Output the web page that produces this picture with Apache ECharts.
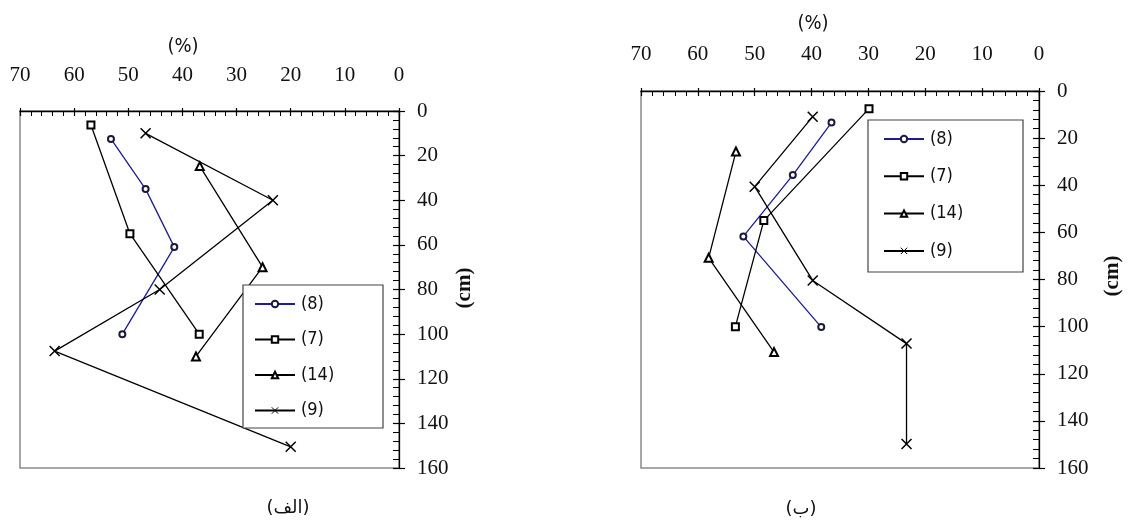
<!DOCTYPE html>
<html>
<head>
<meta charset="utf-8">
<script src="https://cdn.jsdelivr.net/npm/echarts@6/dist/echarts.min.js"></script>
<style>
  html, body { margin: 0; padding: 0; background: #fff; }
  #chart { width: 1128px; height: 524px; }
</style>
</head>
<body>
<div id="chart"></div>
<script>
// Moisture profiles (%) against depth (cm) for four profiles, two sites
const seriesNames = ['(8)', '(7)', '(14)', '(9)'];

// Site (الف): [percent, depth cm]
const alef8  = [[53.2, 12.5], [46.8, 35], [41.5, 61], [51.1, 100]];
const alef7  = [[56.9, 6.3], [49.7, 55], [36.9, 100]];
const alef14 = [[36.8, 24.7], [25.2, 70], [37.5, 110]];
const alef9  = [[46.8, 10], [23.3, 40], [44.2, 80], [63.6, 107.6], [20, 150.5]];

// Site (ب): [percent, depth cm]
const be8  = [[36.5, 13.4], [43.3, 35.7], [52, 61.7], [38.3, 100.2]];
const be7  = [[29.9, 7.5], [48.4, 55], [53.4, 100]];
const be14 = [[53.3, 25.7], [58.1, 70.8], [46.6, 110.8]];
const be9  = [[39.8, 10.9], [50, 40.6], [39.8, 80.4], [23.3, 107.2], [23.3, 149.8]];

const percentRange = { min: 0, max: 70, interval: 10 };
const depthRange = { min: 0, max: 160, interval: 20 };

const captions = ['(الف)', '(ب)'];
const xTitle = '(%)';
const yTitle = '(cm)';

const serif = "'Liberation Serif', 'Times New Roman', serif";
const narrow = "'Liberation Sans Narrow', 'DejaVu Sans Condensed', 'Liberation Sans', sans-serif";

const gridBoxes = [
  { left: 20, top: 111, width: 379, height: 357 },
  { left: 641, top: 91, width: 398, height: 377 }
];

const grids = [];
const xAxes = [];
const yAxes = [];
gridBoxes.forEach(function (b) {
  // visible frame grid
  grids.push(Object.assign({ show: true, borderColor: '#8a8a8a', borderWidth: 1.5, backgroundColor: 'transparent' }, b));
});
gridBoxes.forEach(function (b) {
  // overlay grid carrying the outward half of the major ticks
  grids.push(Object.assign({ show: false }, b));
});

function mainX(gi, margin) {
  return {
    type: 'value', gridIndex: gi, position: 'top', inverse: true,
    min: percentRange.min, max: percentRange.max, interval: percentRange.interval,
    axisLine: { show: true, lineStyle: { color: '#000', width: 1.3 } },
    axisTick: { show: true, inside: true, length: 5, lineStyle: { color: '#000', width: 1.2 } },
    minorTick: { show: true, splitNumber: 5, length: 5, lineStyle: { color: '#000', width: 1 } },
    axisLabel: { show: true, margin: margin, color: '#111', fontFamily: serif, fontSize: 21 },
    splitLine: { show: false }
  };
}
function outerX(gi) {
  return {
    type: 'value', gridIndex: gi, position: 'top', inverse: true,
    min: percentRange.min, max: percentRange.max, interval: percentRange.interval,
    axisLine: { show: false },
    axisTick: { show: true, inside: false, length: 3, lineStyle: { color: '#000', width: 1.2 } },
    axisLabel: { show: false }, splitLine: { show: false }
  };
}
function mainY(gi) {
  return {
    type: 'value', gridIndex: gi, position: 'right', inverse: true,
    min: depthRange.min, max: depthRange.max, interval: depthRange.interval,
    axisLine: { show: true, lineStyle: { color: '#000', width: 1.3 } },
    axisTick: { show: true, inside: true, length: 6, lineStyle: { color: '#000', width: 1.2 } },
    minorTick: { show: true, splitNumber: 5, length: 6, lineStyle: { color: '#000', width: 1 } },
    axisLabel: { show: true, margin: 18, color: '#111', fontFamily: serif, fontSize: 21 },
    splitLine: { show: false }
  };
}
function outerY(gi) {
  return {
    type: 'value', gridIndex: gi, position: 'right', inverse: true,
    min: depthRange.min, max: depthRange.max, interval: depthRange.interval,
    axisLine: { show: false },
    axisTick: { show: true, inside: false, length: 6, lineStyle: { color: '#000', width: 1.2 } },
    axisLabel: { show: false }, splitLine: { show: false }
  };
}

xAxes.push(mainX(0, 25), mainX(1, 26), outerX(2), outerX(3));
yAxes.push(mainY(0), mainY(1), outerY(2), outerY(3));

const crossPath = 'path://M0,0L10,10M10,0L0,10';
const styles = {
  '(8)':  { symbol: 'emptyCircle', symbolSize: 6, line: '#1d1d8f', mark: '#1a1a3a' },
  '(7)':  { symbol: 'emptyRect', symbolSize: 7, line: '#000', mark: '#000' },
  '(14)': { symbol: 'emptyTriangle', symbolSize: 8, line: '#000', mark: '#000' },
  '(9)':  { symbol: crossPath, symbolSize: 10, line: '#000', mark: '#000' }
};

function makeSeries(name, data, gi) {
  const s = styles[name];
  return {
    name: name, type: 'line', data: data,
    xAxisIndex: gi, yAxisIndex: gi,
    symbol: s.symbol, symbolSize: s.symbolSize, showAllSymbol: true,
    lineStyle: { color: s.line, width: 1.3 },
    itemStyle: { color: s.mark, borderColor: s.mark, borderWidth: name === '(9)' ? 1.5 : 1 },
    emphasis: { disabled: true },
    animation: false, z: 2
  };
}

const panelData = [
  [alef8, alef7, alef14, alef9],
  [be8, be7, be14, be9]
];
const series = [];
panelData.forEach(function (sets, gi) {
  sets.forEach(function (d, k) { series.push(makeSeries(seriesNames[k], d, gi)); });
});

function legendAt(left, top, gap) {
  return {
    show: true, orient: 'vertical', left: left, top: top, padding: 0,
    itemWidth: 40, itemHeight: 8, itemGap: gap, z: 10,
    data: seriesNames, selectedMode: false,
    itemStyle: { borderWidth: 1 },
    textStyle: { fontFamily: narrow, fontSize: 18, color: '#111', padding: [0, 0, 0, 1] }
  };
}

const option = {
  backgroundColor: '#fff',
  animation: false,
  grid: grids,
  xAxis: xAxes,
  yAxis: yAxes,
  series: series,
  legend: [legendAt(254, 295, 17.5), legendAt(883, 130, 19.3)],
  graphic: [
    { type: 'rect', z: 5, shape: { x: 243, y: 285, width: 140, height: 143 },
      style: { fill: '#fff', stroke: '#444', lineWidth: 1.2 } },
    { type: 'rect', z: 5, shape: { x: 868, y: 120, width: 155, height: 152 },
      style: { fill: '#fff', stroke: '#444', lineWidth: 1.2 } },
    { type: 'text', x: 183, y: 47, style: { text: xTitle, font: '20px ' + narrow, fill: '#111', textAlign: 'center', textVerticalAlign: 'middle' } },
    { type: 'text', x: 813, y: 24, style: { text: xTitle, font: '20px ' + narrow, fill: '#111', textAlign: 'center', textVerticalAlign: 'middle' } },
    { type: 'text', x: 465, y: 288, rotation: Math.PI / 2, style: { text: yTitle, font: 'bold 21px ' + serif, fill: '#111', textAlign: 'center', textVerticalAlign: 'middle' } },
    { type: 'text', x: 1113, y: 276, rotation: Math.PI / 2, style: { text: yTitle, font: 'bold 21px ' + serif, fill: '#111', textAlign: 'center', textVerticalAlign: 'middle' } },
    { type: 'text', x: 288, y: 508, style: { text: captions[0], font: "18px 'DejaVu Sans', sans-serif", fill: '#111', textAlign: 'center', textVerticalAlign: 'middle' } },
    { type: 'text', x: 801, y: 509, style: { text: captions[1], font: "18px 'DejaVu Sans', sans-serif", fill: '#111', textAlign: 'center', textVerticalAlign: 'middle' } }
  ]
};

const chart = echarts.init(document.getElementById('chart'), null, { renderer: 'canvas' });
chart.setOption(option);
</script>
</body>
</html>
